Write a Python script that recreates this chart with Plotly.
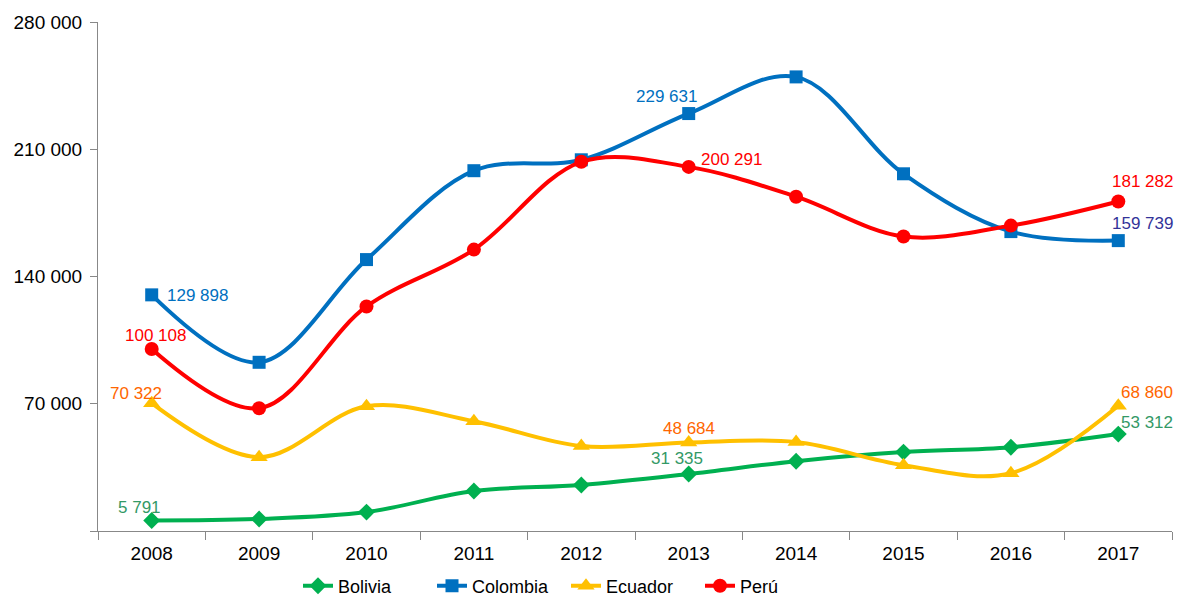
import plotly.graph_objects as go

years = ["2008", "2009", "2010", "2011", "2012", "2013", "2014", "2015", "2016", "2017"]
bolivia = [5791, 6600, 10400, 22000, 25300, 31335, 38400, 43400, 46100, 53312]
colombia = [129898, 92800, 149300, 198200, 204200, 229631, 249800, 196500, 164700, 159739]
ecuador = [70322, 40600, 68600, 60400, 46700, 48684, 48900, 36200, 31800, 68860]
peru = [100108, 67500, 123500, 154800, 203100, 200291, 183900, 162000, 168000, 181282]

y_ticks = [0, 70000, 140000, 210000, 280000]
y_tick_labels = ["", "70 000", "140 000", "210 000", "280 000"]

FONT = "Liberation Sans, Arial, sans-serif"

series = [
    ("Bolivia", bolivia, "#00B050", "diamond", 13),
    ("Colombia", colombia, "#0070C0", "square", 13),
    ("Ecuador", ecuador, "#FFC000", "triangle-up", 15),
    ("Perú", peru, "#FF0000", "circle", 14),
]

fig = go.Figure()
for name, vals, color, sym, size in series:
    fig.add_trace(go.Scatter(
        x=years, y=vals, name=name, mode="lines+markers",
        line=dict(color=color, width=4, shape="spline", smoothing=1.0),
        marker=dict(symbol=sym, size=size, color=color),
    ))

def fmt(v):
    return f"{v:,}".replace(",", " ")

# (series values, index, color, xanchor, xshift, yshift)
labels = [
    (colombia, 0, "#0070C0", "left", 13, -1),
    (peru, 0, "#FF0000", "center", 4, 14),
    (ecuador, 0, "#FF6600", "center", -16, 10),
    (bolivia, 0, "#339966", "center", -12, 13),
    (colombia, 5, "#0070C0", "center", -22, 17),
    (peru, 5, "#FF0000", "left", 10, 7),
    (bolivia, 5, "#339966", "center", -12, 16),
    (ecuador, 5, "#FF6600", "center", 0, 14),
    (peru, 9, "#FF0000", "center", 24, 20),
    (colombia, 9, "#333399", "center", 24, 17),
    (ecuador, 9, "#FF6600", "center", 29, 13),
    (bolivia, 9, "#339966", "center", 29, 12),
]
for vals, i, color, xa, xs, ys in labels:
    fig.add_annotation(
        x=i, y=vals[i], text=fmt(vals[i]), showarrow=False,
        xanchor=xa, yanchor="middle", xshift=xs, yshift=ys,
        font=dict(color=color, size=17, family=FONT),
    )

fig.update_layout(
    width=1184, height=596,
    margin=dict(l=98, r=12, t=22, b=65, autoexpand=False),
    plot_bgcolor="white", paper_bgcolor="white",
    font=dict(family=FONT, size=18, color="#000000"),
    showlegend=True,
    legend=dict(orientation="h", xref="container", x=298 / 1184, xanchor="left",
                yref="container", y=10 / 596, yanchor="middle",
                font=dict(size=18), entrywidth=89, entrywidthmode="pixels",
                tracegroupgap=0),
    xaxis=dict(
        type="category", showgrid=False, showline=True, linecolor="#888888", linewidth=1,
        ticks="outside", tickson="boundaries", ticklen=8, tickcolor="#888888",
        tickfont=dict(size=19), range=[-0.5, 9.5], automargin=False,
        ticklabelstandoff=5,
    ),
    yaxis=dict(
        range=[0, 280000], tickvals=y_ticks, ticktext=y_tick_labels,
        showgrid=False, showline=True, linecolor="#888888", linewidth=1,
        ticks="outside", ticklen=7, tickcolor="#888888", zeroline=False,
        tickfont=dict(size=19), automargin=False, ticklabelstandoff=4,
    ),
)

fig.write_html(
    "out.html",
    config={"displayModeBar": False},
    post_script="document.body.style.margin='0px';document.body.style.padding='0px';",
)
